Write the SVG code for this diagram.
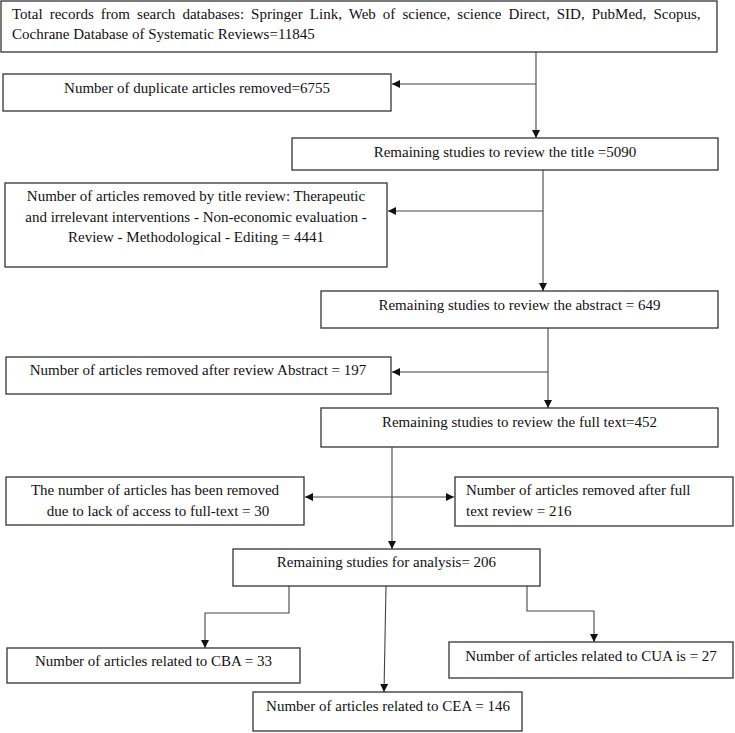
<svg xmlns="http://www.w3.org/2000/svg" width="735" height="733" viewBox="0 0 735 733">
<style>
.box{fill:#fff;stroke:#333;stroke-width:1.3}
.t{font-family:"Liberation Serif","Times New Roman",serif;font-size:15px;fill:#111}
.c{text-anchor:middle}
.ln{fill:none;stroke:#444;stroke-width:1.1}
</style>
<defs>
<marker id="ah" viewBox="0 0 10 10" refX="10" refY="5" markerWidth="8" markerHeight="8" markerUnits="userSpaceOnUse" orient="auto-start-reverse">
<path d="M0,0 L10,5 L0,10 z" fill="#111"/>
</marker>
</defs>
<rect width="735" height="733" fill="#fff"/>
<g id="connectors">
<path class="ln" d="M536,52 V138" marker-end="url(#ah)"/>
<path class="ln" d="M536,84 H392" marker-end="url(#ah)"/>
<path class="ln" d="M543,170 V291" marker-end="url(#ah)"/>
<path class="ln" d="M543,211 H388" marker-end="url(#ah)"/>
<path class="ln" d="M548,328 V408" marker-end="url(#ah)"/>
<path class="ln" d="M548,372 H392" marker-end="url(#ah)"/>
<path class="ln" d="M392,447 V549" marker-end="url(#ah)"/>
<path class="ln" d="M305,497 H454" marker-start="url(#ah)" marker-end="url(#ah)"/>
<path class="ln" d="M289,586 V613 H205 V648" marker-end="url(#ah)"/>
<path class="ln" d="M386,586 L384,692" marker-end="url(#ah)"/>
<path class="ln" d="M527,586 V611 H594 V642" marker-end="url(#ah)"/>
</g>
<g id="n1"><rect class="box" x="1" y="1" width="716" height="51"/>
<text class="t" x="12" y="19" word-spacing="3.3">Total records from search databases: Springer Link, Web of science, science Direct, SID, PubMed, Scopus,</text>
<text class="t" x="12" y="38.5">Cochrane Database of Systematic Reviews=11845</text></g>
<g id="n2"><rect class="box" x="3" y="74" width="388" height="37"/>
<text class="t c" x="197" y="93">Number of duplicate articles removed=6755</text></g>
<g id="n3"><rect class="box" x="292" y="138" width="426" height="32"/>
<text class="t c" x="505" y="157">Remaining studies to review the title =5090</text></g>
<g id="n4"><rect class="box" x="5" y="183" width="382" height="84"/>
<text class="t c" x="196" y="201">Number of articles removed by title review: Therapeutic</text>
<text class="t c" x="196" y="221.5">and irrelevant interventions - Non-economic evaluation -</text>
<text class="t c" x="196" y="242">Review - Methodological - Editing = 4441</text></g>
<g id="n5"><rect class="box" x="321" y="291" width="397" height="37"/>
<text class="t c" x="519.5" y="310">Remaining studies to review the abstract = 649</text></g>
<g id="n6"><rect class="box" x="6" y="357" width="385" height="37"/>
<text class="t c" x="198" y="375">Number of articles removed after review Abstract = 197</text></g>
<g id="n7"><rect class="box" x="321" y="408" width="397" height="39"/>
<text class="t c" x="519.5" y="427">Remaining studies to review the full text=452</text></g>
<g id="n8"><rect class="box" x="6" y="477" width="298" height="48"/>
<text class="t c" x="155" y="495">The number of articles has been removed</text>
<text class="t c" x="158" y="516">due to lack of access to full-text = 30</text></g>
<g id="n9"><rect class="box" x="455" y="477" width="278" height="49"/>
<text class="t" x="466" y="495">Number of articles removed after full</text>
<text class="t" x="466" y="516">text review = 216</text></g>
<g id="n10"><rect class="box" x="233" y="549" width="307" height="37"/>
<text class="t c" x="386.5" y="567">Remaining studies for analysis= 206</text></g>
<g id="n11"><rect class="box" x="7" y="648" width="293" height="35"/>
<text class="t c" x="153.5" y="666">Number of articles related to CBA = 33</text></g>
<g id="n12"><rect class="box" x="253" y="692" width="269" height="39"/>
<text class="t c" x="388" y="711">Number of articles related to CEA = 146</text></g>
<g id="n13"><rect class="box" x="449" y="642" width="284" height="36"/>
<text class="t c" x="591" y="661">Number of articles related to CUA is = 27</text></g>
</svg>
